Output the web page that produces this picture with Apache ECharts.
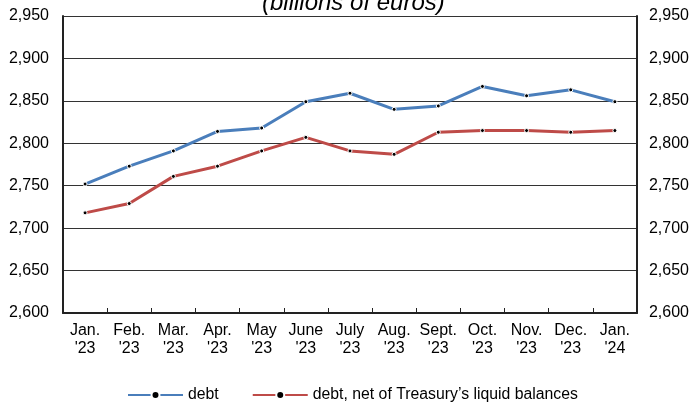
<!DOCTYPE html>
<html>
<head>
<meta charset="utf-8">
<script src="https://cdn.jsdelivr.net/npm/echarts@6/dist/echarts.min.js"></script>
<style>
html,body{margin:0;padding:0;background:#fff;}
#chart{width:692px;height:403px;}
</style>
</head>
<body>
<div id="chart"></div>
<script>
const categories = ["Jan.\n'23","Feb.\n'23","Mar.\n'23","Apr.\n'23","May\n'23","June\n'23","July\n'23","Aug.\n'23","Sept.\n'23","Oct.\n'23","Nov.\n'23","Dec.\n'23","Jan.\n'24"];
const debt = [2752, 2773, 2791, 2814, 2818, 2849, 2859, 2840, 2844, 2867, 2856, 2863, 2849];
const debtNet = [2718, 2729, 2761, 2773, 2791, 2807, 2791, 2787, 2813, 2815, 2815, 2813, 2815];
const seriesNames = ["debt", "debt, net of Treasury\u2019s liquid balances"];
const titleText = "(billions of euros)";

const FONT = "Liberation Sans, Arial, sans-serif";
const fmt = v => v.toLocaleString('en-US');

const chart = echarts.init(document.getElementById('chart'), null, {renderer: 'canvas'});
const yAxisBase = {
  type: 'value', min: 2600, max: 2950, interval: 50,
  axisLine: {show: true, lineStyle: {color: '#222', width: 2}},
  axisTick: {show: false},
  splitLine: {show: true, lineStyle: {color: '#333', width: 1}},
  axisLabel: {formatter: fmt, color: '#000', fontSize: 16, fontFamily: FONT}
};
chart.setOption({
  animation: false,
  title: {
    text: titleText, left: 257, top: -14,
    textStyle: {fontSize: 24, fontStyle: 'italic', fontWeight: 'normal', color: '#000', fontFamily: FONT}
  },
  grid: {left: 63, right: 55, top: 16, bottom: 90, containLabel: false},
  legend: {
    top: 387, left: 127, padding: 0, itemWidth: 55, itemHeight: 10, itemGap: 33,
    textStyle: {fontSize: 15.8, color: '#000', fontFamily: FONT},
    data: seriesNames
  },
  xAxis: {
    type: 'category', data: categories, boundaryGap: true,
    axisLine: {lineStyle: {color: '#222', width: 2}},
    axisTick: {show: true, inside: true, length: 5, lineStyle: {color: '#222'}},
    axisLabel: {color: '#000', fontSize: 16, lineHeight: 18, fontFamily: FONT, margin: 9, interval: 0}
  },
  yAxis: [
    Object.assign({}, yAxisBase, {position: 'left', axisLabel: Object.assign({}, yAxisBase.axisLabel, {margin: 14})}),
    Object.assign({}, yAxisBase, {position: 'right', splitLine: {show: false}, axisLabel: Object.assign({}, yAxisBase.axisLabel, {margin: 12})})
  ],
  series: [
    {
      name: seriesNames[0], type: 'line', data: debt, yAxisIndex: 0,
      lineStyle: {color: '#4a7ebb', width: 3},
      symbol: 'circle', symbolSize: 4, showSymbol: true,
      itemStyle: {color: '#000', borderColor: '#fff', borderWidth: 1}
    },
    {
      name: seriesNames[1], type: 'line', data: debtNet, yAxisIndex: 0,
      lineStyle: {color: '#be4b48', width: 3},
      symbol: 'circle', symbolSize: 4, showSymbol: true,
      itemStyle: {color: '#000', borderColor: '#fff', borderWidth: 1}
    }
  ]
});
</script>
</body>
</html>
